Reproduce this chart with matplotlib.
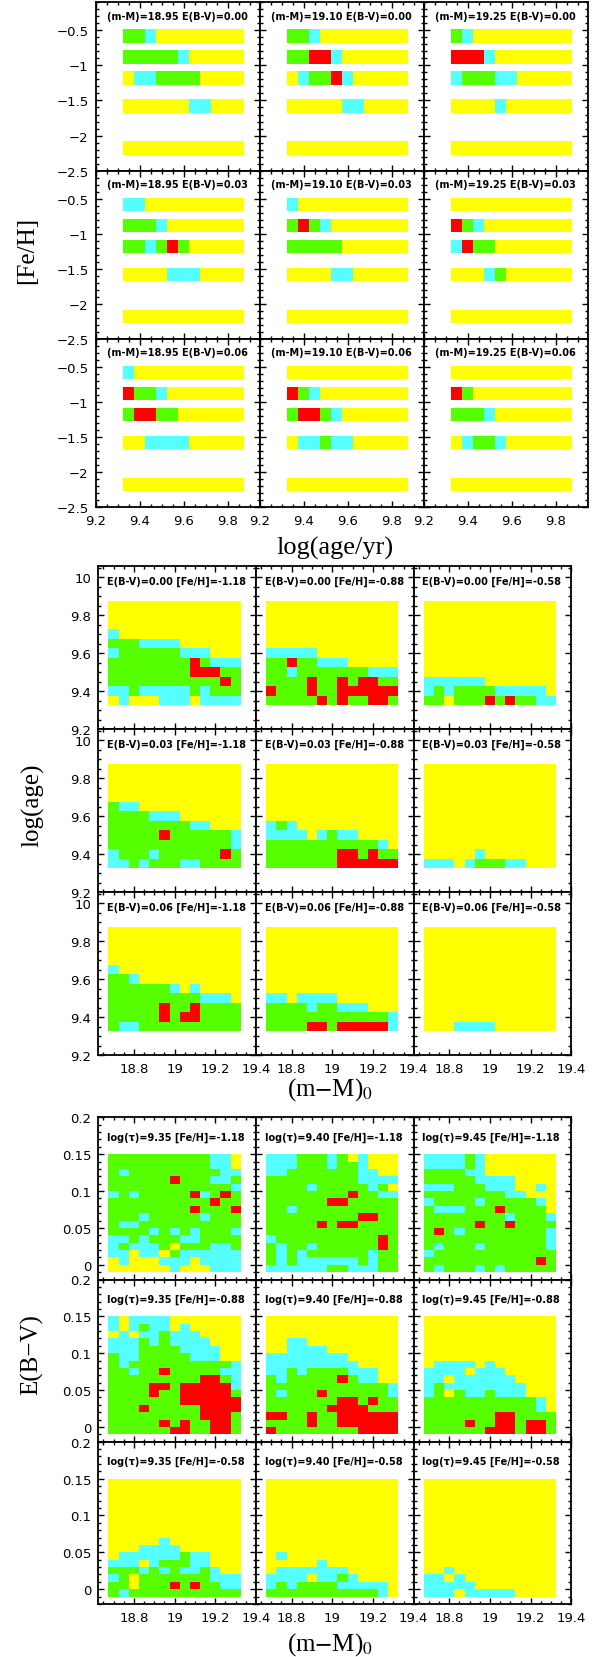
import numpy as np
import matplotlib
matplotlib.use("Agg")
import matplotlib.pyplot as plt
from matplotlib.colors import ListedColormap, BoundaryNorm
from matplotlib.ticker import MultipleLocator, FuncFormatter

# -----------------------------
# Colour codes used in the grids
# Y = outside, C = marginal, G = good, R = best fit
# -----------------------------
CODES = "YCGR"
PALETTE = ["#ffff00", "#55ffff", "#55ff00", "#ff0000"]

# -----------------------------
# Block 1: [Fe/H] vs log(age), panels by (m-M) and E(B-V)
# each panel: one string per [Fe/H] bar, one letter per age cell
# -----------------------------
top_log_age = [9.35, 9.40, 9.45, 9.50, 9.55, 9.60, 9.65, 9.70, 9.75, 9.80, 9.85]
top_feh = [-0.58, -0.88, -1.18, -1.58, -2.18]
top_dm = [18.95, 19.10, 19.25]
top_ebv = [0.00, 0.03, 0.06]

feh_age_e000 = [
    ["GGCYYYYYYYY", "GGGGGCYYYYY", "YCCGGGGYYYY", "YYYYYYCCYYY", "YYYYYYYYYYY"],
    ["GGCYYYYYYYY", "GGRRCYYYYYY", "YCGGRCYYYYY", "YYYYYCCYYYY", "YYYYYYYYYYY"],
    ["GCYYYYYYYYY", "RRRCYYYYYYY", "CGGGCCYYYYY", "YYYYCYYYYYY", "YYYYYYYYYYY"],
]
feh_age_e003 = [
    ["CCYYYYYYYYY", "GGGCYYYYYYY", "GGCGRGYYYYY", "YYYYCCCYYYY", "YYYYYYYYYYY"],
    ["CYYYYYYYYYY", "GRGCYYYYYYY", "GGGGGYYYYYY", "YYYYCCYYYYY", "YYYYYYYYYYY"],
    ["YYYYYYYYYYY", "RGCYYYYYYYY", "CRGGYYYYYYY", "YYYCGYYYYYY", "YYYYYYYYYYY"],
]
feh_age_e006 = [
    ["CYYYYYYYYYY", "RGGCYYYYYYY", "GRRGGYYYYYY", "YYCCCCYYYYY", "YYYYYYYYYYY"],
    ["YYYYYYYYYYY", "RGCYYYYYYYY", "GRRGCYYYYYY", "YCCGCCYYYYY", "YYYYYYYYYYY"],
    ["YYYYYYYYYYY", "RGYYYYYYYYY", "GGGCYYYYYYY", "YCGGCYYYYYY", "YYYYYYYYYYY"],
]

# -----------------------------
# Block 2: log(age) vs (m-M)0, panels by E(B-V) and [Fe/H]
# rows listed from log(age)=9.85 down to 9.35
# -----------------------------
mid_dm = [18.70, 18.75, 18.80, 18.85, 18.90, 18.95, 19.00,
          19.05, 19.10, 19.15, 19.20, 19.25, 19.30]
mid_log_age = [9.35, 9.40, 9.45, 9.50, 9.55, 9.60, 9.65, 9.70, 9.75, 9.80, 9.85]
mid_ebv = [0.00, 0.03, 0.06]
mid_feh = [-1.18, -0.88, -0.58]

Y13 = "YYYYYYYYYYYYY"

age_dm_e000 = [
    [Y13, Y13, Y13, "CYYYYYYYYYYYY", "GGGCCCCYYYYYY", "CGGGGGGCCCYYY",
     "GGGGGGGGRGCCC", "GGGGGGGGRRRGG", "GGGGGGGGGGGRG", "CCGCCCCCGCGGG",
     "YCYYYCCCYCCCC"],
    [Y13, Y13, Y13, Y13, Y13, "CCCCCYYYYYYYY",
     "GGRGGCCCYYYYY", "GGCGGGGGGGCCC", "GGGGRGGRGRRGG", "RGGGRGGRRRRRR",
     "GGGGGRGRGGRRG"],
    [Y13, Y13, Y13, Y13, Y13, Y13, Y13, Y13,
     "CCCCCCYYYYYYY", "CGCGGGGCCCCCY", "GGYGGGRGRGGCC"],
]
age_dm_e003 = [
    [Y13, Y13, Y13, Y13, "GCCYYYYYYYYYY", "GGGGCCCYYYYYY",
     "GGGGGGGGCCYYY", "GGGGGRGGGGGGC", "GGGGGGGGGGGGC", "CGGGCGGGGGGRG",
     "CCGCGGGCCGGGG"],
    [Y13, Y13, Y13, Y13, Y13, Y13,
     "CGCYYYYYYYYYY", "CCCCYCGCCYYYY", "GGGGGGGGGGGCY", "GGGGGGGRRGRGG",
     "GGGGGGGRRRRRR"],
    [Y13, Y13, Y13, Y13, Y13, Y13, Y13, Y13, Y13,
     "YYYYYCYYYYYYY", "CCCYCGGGCCYYY"],
]
age_dm_e006 = [
    [Y13, Y13, Y13, Y13, "CYYYYYYYYYYYY", "GGCYYYYYYYYYY",
     "GGGGGGCYCYYYY", "GGGGGGGGGCCCY", "GGGGGRGGRGGGG", "GGGGGRGRRGGGG",
     "GCCGGGGGGGGGG"],
    [Y13, Y13, Y13, Y13, Y13, Y13, Y13,
     "CCYCCCCYYYYYY", "GGGGCGGCCCYYY", "GGGGGGGGGGGGC", "GGGGRRGRRRRRC"],
    [Y13, Y13, Y13, Y13, Y13, Y13, Y13, Y13, Y13, Y13,
     "YYYCCCCYYYYYY"],
]

# -----------------------------
# Block 3: E(B-V) vs (m-M)0, panels by [Fe/H] and log(tau)
# rows listed from E(B-V)=0.15 down to 0.00
# -----------------------------
low_ebv = [0.00, 0.01, 0.02, 0.03, 0.04, 0.05, 0.06, 0.07,
           0.08, 0.09, 0.10, 0.11, 0.12, 0.13, 0.14, 0.15]
low_feh = [-1.18, -0.88, -0.58]
low_log_tau = [9.35, 9.40, 9.45]

ebv_dm_feh118 = [
    ["GGGGGGGGGGCCY", "GGGGGGGGGGCCY", "GCGGGGGGGGGCC", "GGGGGGRGGGCCG",
     "GGGGGGGGGGGGC", "CGCGGGGGRCGRG", "GGGGGGGGGGRGG", "GGGGGGGGRGGGR",
     "GGGCGGGGGCGGG", "GCCGGGGGGGGGG", "GGGGCGCGCGGGC", "CCGCGGGCCGGGG",
     "CGCCCGYGGGCCG", "CCYCCYGCCCCCC", "YCYYYCCCYCCCC", "YYYYYYCYYYCCC"],
    ["CCCGGGCGYCYYY", "CCCGGGCGGCYYY", "CCGGGGGGGCCYY", "GGGGGGGGGCCCC",
     "GGGGCGGGGGCGY", "GGGGGGGGRGGCC", "GGGGGGRRGGGGG", "GGCGGGGGGGGGG",
     "GGGGGGGGGRRGG", "GGGGGRGRRGGGG", "GGGGGGGGGGGGG", "CGGGGGGGGGGRG",
     "GCGGCGGGGGGRG", "GCGCGGGGGGCGG", "GCGCCCCCCGCGG", "CCCCCCGGCCCGG"],
    ["CCCCGCYYYYYYY", "CCCCGCYYYYYYY", "GGGGCCYYYYYYY", "GGGGGCCCCYYYY",
     "CCCGGGCCCYYCY", "GGGGGGGGCCYYY", "CGGGGCGGGGGCY", "GCCCGGGRGGGGY",
     "GGGGGGGGCGGGC", "GGGGGRGGRGGGG", "GRGCGGGGGGGGC", "GGGGGGGGGGGGC",
     "GCGGGCGGGGGGC", "CGGGGGGGGGGGG", "GGGGGGGGGGGRG", "GCGGGCGCGGGGG"],
]
ebv_dm_feh088 = [
    ["CYCCCCYYYYYYY", "CYCGCCYCYYYYY", "YCYCCGCCCYYYY", "CCCGCGCCCCYYY",
     "CCCGGGGCCCCYY", "GCCGGGGGCCCYY", "GCGGGGGGGGGGC", "GGCGGRGGGGGCC",
     "GGGGGGGGGRRGC", "GGGGRRGRRRRRC", "GGGGRGGRRRRRG", "GGGGGGGRRRRRR",
     "GGGRGGGGGRRRR", "GGGGGGGGGRRRG", "GGGGGRGRGGRRG", "GGGGGGRRGGRRG"],
    [Y13, Y13, Y13, "YYCCYYYYYYYYY",
     "YYCCCCYYYYYYY", "CCCCCCCCYYYYY", "CCCCCCCCCYYYY", "CCGCGGGGCCCYY",
     "GCGGGGGRGCCYY", "GGGGGGGGGGGGC", "GCGGGRGGGGGGC", "GGGGGGGRRGRGG",
     "GGGGGGRRRRGGG", "RRGGRGGRRRRRR", "GGGGRGGRRRRRR", "RGGGGGGGGRRRR"],
    [Y13, Y13, Y13, Y13,
     Y13, Y13, "YCCCCYCYYYYYY", "CCCCYCCCYYYYY",
     "CCYCCCCCCYYYY", "CGCCCCCCCCYYY", "CGYGCCGCCCYYY", "GGGGGGGGGGGCY",
     "GGGGGGGGGGGCY", "GGGGGGGRRGGGG", "GGGGRGGRRGRRG", "GGGGGGRRRGRRG"],
]
ebv_dm_feh058 = [
    [Y13, Y13, Y13, Y13,
     Y13, Y13, Y13, Y13,
     "YYYYYCYYYYYYY", "YYYCCCCYYYYYY", "YCCCCCCGCCYYY", "CCCYCGGGCCYYY",
     "GGGCGCGCCGCYY", "CGYGGGGGGGCCC", "GGYGGGRGRGGCC", "GCGGGGGGGGGGG"],
    [Y13, Y13, Y13, Y13,
     Y13, Y13, Y13, Y13,
     Y13, Y13, "YCYYYYYYYYYYY", "YYYYYCYYYYYYY",
     "YCCCCCCCYYYYY", "CCCCYCCGCYYYY", "CGCGGGGCCCCCY", "GGGGGGGGGGGCY"],
    [Y13, Y13, Y13, Y13,
     Y13, Y13, Y13, Y13,
     Y13, Y13, Y13, Y13,
     "YYCYYYYYYYYYY", "CCYCYYYYYYYYY", "CCCCCYYYYYYYY", "CCCYCCCCCYYYY"],
]

# -----------------------------
# Helpers
# -----------------------------
W, H = 601, 1658
cmap = ListedColormap(PALETTE)
norm = BoundaryNorm(np.arange(-0.5, 4.5, 1), cmap.N)

TICK_FONT = "DejaVu Sans"
LABEL_FONT = "Liberation Serif"


def codes(rows):
    return np.array([[CODES.index(ch) for ch in row] for row in rows])


def centre_edges(c):
    c = np.asarray(c, dtype=float)
    step = c[1] - c[0]
    return np.append(c - step / 2, c[-1] + step / 2)


def fmt(v, pos):
    v = round(v, 6)
    if v == 0:
        return "0"
    return f"{v:g}".replace("-", "\u2212")


def make_ax(fig, left, top, width, height):
    ax = fig.add_axes([left / W, 1 - (top + height) / H, width / W, height / H])
    for s in ax.spines.values():
        s.set_linewidth(1.3)
    ax.tick_params(which="both", direction="in", top=True, right=True,
                   width=1.0, labelsize=9.5, pad=5)
    ax.tick_params(which="major", length=4.6)
    ax.tick_params(which="minor", length=2.3)
    ax.xaxis.set_major_formatter(FuncFormatter(fmt))
    ax.yaxis.set_major_formatter(FuncFormatter(fmt))
    return ax


def finish_labels(ax, show_x, show_y):
    ax.tick_params(labelbottom=show_x, labelleft=show_y)
    for lab in ax.get_xticklabels() + ax.get_yticklabels():
        lab.set_family(TICK_FONT)


fig = plt.figure(figsize=(W / 100, H / 100), dpi=100)

# -----------------------------
# Block 1
# -----------------------------
b1_left, b1_top, b1_w, b1_h = 95.6, 3.3, 164.0, 168.3
age_edges = centre_edges(top_log_age)
bar_half = 0.095
top_grids = [feh_age_e000, feh_age_e003, feh_age_e006]

for i, ebv in enumerate(top_ebv):
    for j, dm in enumerate(top_dm):
        ax = make_ax(fig, b1_left + j * b1_w, b1_top + i * b1_h, b1_w, b1_h)
        grid = codes(top_grids[i][j])
        for feh, row in zip(top_feh, grid):
            ax.pcolormesh(age_edges, [feh - bar_half, feh + bar_half],
                          row[None, :], cmap=cmap, norm=norm)
        ax.set_xlim(9.2, 9.945)
        ax.set_ylim(-2.5, -0.1)
        ax.xaxis.set_major_locator(MultipleLocator(0.2))
        ax.xaxis.set_minor_locator(MultipleLocator(0.05))
        ax.yaxis.set_major_locator(MultipleLocator(0.5))
        ax.yaxis.set_minor_locator(MultipleLocator(0.1))
        ax.text(0.07, 0.92, f"(m-M)={dm:.2f} E(B-V)={ebv:.2f}",
                transform=ax.transAxes, ha="left", va="center",
                fontsize=7, fontweight="bold", family="DejaVu Sans")
        finish_labels(ax, i == 2, j == 0)

fig.text(27 / W, 1 - 250 / H, "[Fe/H]", rotation=90, ha="center", va="center",
         fontsize=18, family=LABEL_FONT)
fig.text(335 / W, 1 - 548 / H, "log(age/yr)", ha="center", va="center",
         fontsize=19, family=LABEL_FONT)

# -----------------------------
# Block 2
# -----------------------------
b2_left, b2_top, b2_w, b2_h = 98.3, 567.0, 157.7, 163.0
dm_edges = centre_edges(mid_dm)
mid_age_edges = centre_edges(mid_log_age)
mid_grids = [age_dm_e000, age_dm_e003, age_dm_e006]

for i, ebv in enumerate(mid_ebv):
    for j, feh in enumerate(mid_feh):
        ax = make_ax(fig, b2_left + j * b2_w, b2_top + i * b2_h, b2_w, b2_h)
        grid = codes(mid_grids[i][j])[::-1]
        ax.pcolormesh(dm_edges, mid_age_edges, grid, cmap=cmap, norm=norm)
        ax.set_xlim(18.625, 19.4)
        ax.set_ylim(9.2, 10.06)
        ax.xaxis.set_major_locator(MultipleLocator(0.2))
        ax.xaxis.set_minor_locator(MultipleLocator(0.05))
        ax.yaxis.set_major_locator(MultipleLocator(0.2))
        ax.yaxis.set_minor_locator(MultipleLocator(0.05))
        ax.text(0.055, 0.91, f"E(B-V)={ebv:.2f} [Fe/H]={feh:.2f}",
                transform=ax.transAxes, ha="left", va="center",
                fontsize=7, fontweight="bold", family="DejaVu Sans")
        finish_labels(ax, i == 2, j == 0)

fig.text(33 / W, 1 - 805 / H, "log(age)", rotation=90, ha="center", va="center",
         fontsize=18, family=LABEL_FONT)
fig.text(330 / W, 1 - 1090 / H, r"(m$-$M)$_0$", ha="center", va="center",
         fontsize=18, family=LABEL_FONT, math_fontfamily="stix")

# -----------------------------
# Block 3
# -----------------------------
b3_left, b3_top, b3_w, b3_h = 98.3, 1118.3, 157.7, 162.2
ebv_edges = np.append(np.array(low_ebv) - 0.01, low_ebv[-1])
low_grids = [ebv_dm_feh118, ebv_dm_feh088, ebv_dm_feh058]

for i, feh in enumerate(low_feh):
    for j, tau in enumerate(low_log_tau):
        ax = make_ax(fig, b3_left + j * b3_w, b3_top + i * b3_h, b3_w, b3_h)
        grid = codes(low_grids[i][j])[::-1]
        ax.pcolormesh(dm_edges, ebv_edges, grid, cmap=cmap, norm=norm)
        ax.set_xlim(18.625, 19.4)
        ax.set_ylim(-0.02, 0.2)
        ax.xaxis.set_major_locator(MultipleLocator(0.2))
        ax.xaxis.set_minor_locator(MultipleLocator(0.05))
        ax.yaxis.set_major_locator(MultipleLocator(0.05))
        ax.yaxis.set_minor_locator(MultipleLocator(0.01))
        ax.text(0.055, 0.88, f"log(\u03c4)={tau:.2f} [Fe/H]={feh:.2f}",
                transform=ax.transAxes, ha="left", va="center",
                fontsize=7, fontweight="bold", family="DejaVu Sans")
        finish_labels(ax, i == 2, j == 0)

fig.text(32 / W, 1 - 1355 / H, "E(B\u2212V)", rotation=90, ha="center", va="center",
         fontsize=18, family=LABEL_FONT)
fig.text(330 / W, 1 - 1645 / H, r"(m$-$M)$_0$", ha="center", va="center",
         fontsize=18, family=LABEL_FONT, math_fontfamily="stix")

fig.savefig("out.png", dpi=100, facecolor="white")
